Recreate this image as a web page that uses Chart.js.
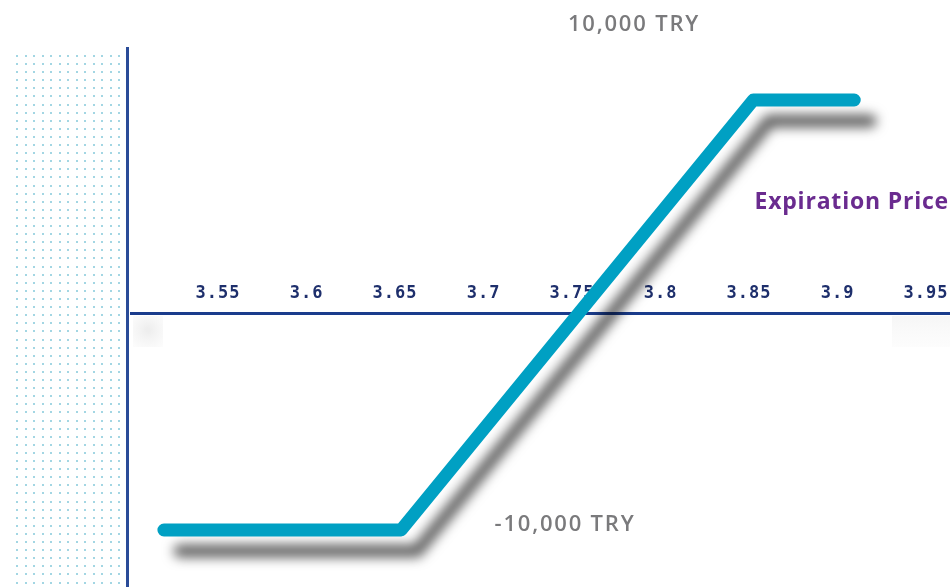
<!DOCTYPE html>
<html>
<head>
<meta charset="utf-8">
<script src="https://cdn.jsdelivr.net/npm/chart.js@4.4.1/dist/chart.umd.min.js"></script>
<style>
  html, body { margin: 0; padding: 0; background: #ffffff; overflow: hidden; }
  #wrap { width: 950px; height: 587px; position: relative; }
</style>
</head>
<body>
<div id="wrap"><canvas id="payoff" width="950" height="587"></canvas></div>
<script>
/* ---------- data ---------- */
const priceLevels = [3.52, 3.654, 3.853, 3.91];
const payoffValues = [-10000, -10000, 10000, 10000];
const tickLabels = ['3.55', '3.6', '3.65', '3.7', '3.75', '3.8', '3.85', '3.9', '3.95'];
const maxLabel = '10,000 TRY';
const minLabel = '-10,000 TRY';
const axisTitle = 'Expiration Price';

/* ---------- background dots + axes ---------- */
const backdrop = {
  id: 'backdrop',
  beforeDraw(chart) {
    const ctx = chart.ctx;
    ctx.save();
    ctx.fillStyle = '#ffffff';
    ctx.fillRect(0, 0, chart.width, chart.height);
    // dotted panel on the left
    ctx.fillStyle = '#a3d6e3';
    for (let x = 17; x < 124; x += 8.5) {
      for (let y = 56; y < chart.height; y += 8.1) {
        ctx.fillRect(Math.round(x) - 1, Math.round(y) - 1, 2, 2);
      }
    }
    // soft smudges under the axis ends
    let g = ctx.createRadialGradient(148, 330, 2, 148, 330, 22);
    g.addColorStop(0, 'rgba(238,238,238,1)');
    g.addColorStop(1, 'rgba(250,250,250,0.6)');
    ctx.fillStyle = g;
    ctx.fillRect(133, 316, 30, 31);
    g = ctx.createLinearGradient(0, 316, 0, 347);
    g.addColorStop(0, 'rgba(246,246,246,1)');
    g.addColorStop(1, 'rgba(250,250,250,0.5)');
    ctx.fillStyle = g;
    ctx.fillRect(892, 316, 58, 31);

    // vertical axis
    ctx.strokeStyle = '#2a4b98';
    ctx.lineWidth = 3;
    ctx.beginPath();
    ctx.moveTo(127.5, 47);
    ctx.lineTo(127.5, chart.height);
    ctx.stroke();

    // horizontal axis at zero
    const y0 = Math.round(chart.scales.y.getPixelForValue(0)) - 1.5;
    ctx.strokeStyle = '#1a3c8c';
    ctx.lineWidth = 3;
    ctx.beginPath();
    ctx.moveTo(130, y0);
    ctx.lineTo(chart.width, y0);
    ctx.stroke();

    // tick labels above the axis
    const xs = chart.scales.x;
    ctx.fillStyle = '#1e2f6c';
    ctx.font = 'bold 17px "DejaVu Sans Mono"';
    ctx.letterSpacing = '1px';
    ctx.textAlign = 'center';
    ctx.textBaseline = 'alphabetic';
    tickLabels.forEach(t => {
      ctx.fillText(t, xs.getPixelForValue(parseFloat(t)) + 1, 298);
    });
    ctx.restore();
  },
  afterDraw(chart) {
    const ctx = chart.ctx;
    ctx.save();
    ctx.textAlign = 'center';
    ctx.textBaseline = 'alphabetic';
    ctx.fillStyle = '#7a7a7c';
    ctx.font = '600 22px "Open Sans"';
    ctx.letterSpacing = '1.8px';
    ctx.fillText(maxLabel, 634, 31);
    ctx.fillText(minLabel, 565, 531);
    ctx.fillStyle = '#6a2b8f';
    ctx.font = 'bold 23px "Open Sans"';
    ctx.letterSpacing = '0.8px';
    ctx.textAlign = 'right';
    ctx.fillText(axisTitle, 949, 209);
    ctx.restore();
  }
};

/* ---------- drop shadow on the payoff line ---------- */
const lineShadow = {
  id: 'lineShadow',
  beforeDatasetDraw(chart) {
    const ctx = chart.ctx;
    ctx.save();
    ctx.shadowColor = 'rgba(0,0,0,0.62)';
    ctx.shadowBlur = 12;
    ctx.shadowOffsetX = 16;
    ctx.shadowOffsetY = 21;
  },
  afterDatasetDraw(chart) {
    chart.ctx.restore();
  }
};

const payoffChart = new Chart(document.getElementById('payoff'), {
  type: 'line',
  plugins: [backdrop, lineShadow],
  data: {
    labels: priceLevels,
    datasets: [{
      data: priceLevels.map((p, i) => ({ x: p, y: payoffValues[i] })),
      borderColor: '#00a0c3',
      borderWidth: 13,
      borderCapStyle: 'round',
      borderJoinStyle: 'round',
      pointRadius: 0,
      tension: 0,
      fill: false
    }]
  },
  options: {
    responsive: false,
    animation: false,
    events: [],
    layout: { padding: 0 },
    plugins: { legend: { display: false }, tooltip: { enabled: false } },
    scales: {
      x: { type: 'linear', display: false, min: 3.4274, max: 3.9641 },
      y: { type: 'linear', display: false, min: -12651, max: 14651 }
    }
  }
});
</script>
</body>
</html>
